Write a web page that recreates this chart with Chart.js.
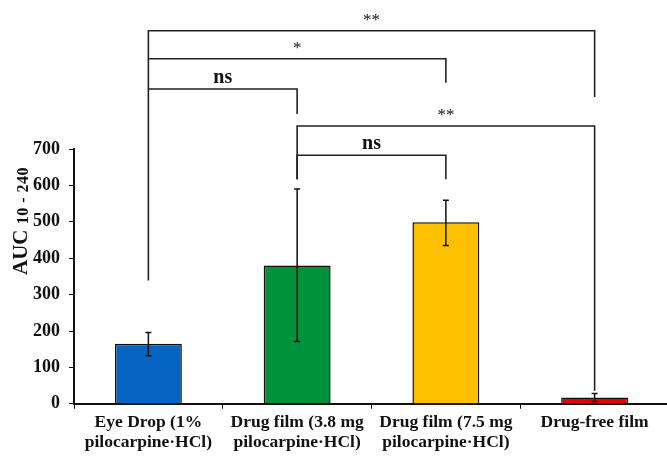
<!DOCTYPE html>
<html>
<head>
<meta charset="utf-8">
<script src="https://cdn.jsdelivr.net/npm/chart.js@4"></script>
<style>
  html, body { margin: 0; padding: 0; background: #fff; overflow: hidden; }
  #wrap { width: 669px; height: 456px; }
</style>
</head>
<body>
<div id="wrap"><canvas id="aucChart"></canvas></div>
<script>
// Data
const categories = [
    ['Eye Drop (1%', 'pilocarpine·HCl)'],
    ['Drug film (3.8 mg', 'pilocarpine·HCl)'],
    ['Drug film (7.5 mg', 'pilocarpine·HCl)'],
    'Drug-free film'
];
const aucMeans = [165, 380, 499, 17];
const errLow = [132, 171, 435, 6];
const errHigh = [196, 590, 559, 28];
const barColors = ['#0563c1', '#00923a', '#ffc000', '#e60000'];

// Significance brackets (values in AUC units, indexes into categories)
const bracketFrom = [0, 0, 0, 1, 1];
const bracketTo = [3, 2, 1, 3, 2];
const bracketLevel = [1025, 948, 865, 763, 683];
const bracketLeftEnd = [339, 948, 865, 617, 617];
const bracketRightEnd = [843, 882, 796, 36, 617];
const bracketLabels = ['**', '*', 'ns', '**', 'ns'];

const serif = '"Liberation Serif", "Times New Roman", serif';

const extras = {
    id: 'extras',
    afterDatasetsDraw(chart) {
        const ctx = chart.ctx;
        const x = chart.scales.x, y = chart.scales.y;
        ctx.save();
        // error bars
        ctx.strokeStyle = '#111';
        ctx.lineWidth = 1.5;
        aucMeans.forEach((v, i) => {
            const cx = x.getPixelForValue(i);
            const lo = y.getPixelForValue(errLow[i]);
            const hi = y.getPixelForValue(errHigh[i]);
            ctx.beginPath();
            ctx.moveTo(cx, lo); ctx.lineTo(cx, hi);
            ctx.moveTo(cx - 3, lo); ctx.lineTo(cx + 3, lo);
            ctx.moveTo(cx - 3, hi); ctx.lineTo(cx + 3, hi);
            ctx.stroke();
        });
        // brackets
        ctx.strokeStyle = '#222';
        ctx.lineWidth = 1.6;
        bracketLevel.forEach((lvl, i) => {
            const x1 = x.getPixelForValue(bracketFrom[i]);
            const x2 = x.getPixelForValue(bracketTo[i]);
            const yl = y.getPixelForValue(lvl);
            ctx.beginPath();
            ctx.moveTo(x1, y.getPixelForValue(bracketLeftEnd[i]));
            ctx.lineTo(x1, yl);
            ctx.lineTo(x2, yl);
            ctx.lineTo(x2, y.getPixelForValue(bracketRightEnd[i]));
            ctx.stroke();
            const lab = bracketLabels[i];
            ctx.fillStyle = '#111';
            ctx.textAlign = 'center';
            ctx.textBaseline = 'alphabetic';
            ctx.font = lab === 'ns' ? 'bold 20px ' + serif : '17px ' + serif;
            ctx.fillText(lab, (x1 + x2) / 2, yl - 6);
        });
        // y axis title with subscript
        ctx.translate(27, 221);
        ctx.rotate(-Math.PI / 2);
        ctx.textAlign = 'left';
        ctx.textBaseline = 'alphabetic';
        ctx.font = 'bold 21px ' + serif;
        const w1 = ctx.measureText('AUC ').width;
        ctx.font = 'bold 16px ' + serif;
        ctx.letterSpacing = '0.5px';
        const w2 = ctx.measureText('10 - 240').width;
        const start = -(w1 + w2) / 2;
        ctx.fillText('10 - 240', start + w1, 1);
        ctx.letterSpacing = '0px';
        ctx.font = 'bold 21px ' + serif;
        ctx.fillText('AUC ', start, 0);
        ctx.restore();
    }
};

new Chart(document.getElementById('aucChart'), {
    type: 'bar',
    data: {
        labels: categories,
        datasets: [{
            data: aucMeans,
            backgroundColor: barColors,
            borderColor: '#111',
            borderWidth: 1.5,
            barPercentage: 0.9,
            categoryPercentage: 0.5
        }]
    },
    options: {
        responsive: true,
        maintainAspectRatio: false,
        animation: false,
        layout: { padding: { top: 149, left: 24, right: 0, bottom: 0 } },
        plugins: { legend: { display: false }, tooltip: { enabled: false } },
        scales: {
            x: {
                grid: { display: true, drawOnChartArea: false, color: '#111', tickLength: 5, offset: true },
                border: { color: '#111', width: 2 },
                ticks: {
                    color: '#111',
                    maxRotation: 0,
                    autoSkip: false,
                    padding: 4,
                    font: { family: serif, size: 17.5, weight: 'bold', lineHeight: 1.12 }
                }
            },
            y: {
                min: 0,
                max: 700,
                grid: { display: true, drawOnChartArea: false, color: '#111', tickLength: 5 },
                border: { color: '#111', width: 2 },
                ticks: {
                    stepSize: 100,
                    color: '#111',
                    padding: 9,
                    font: { family: serif, size: 18, weight: 'bold' }
                }
            }
        }
    },
    plugins: [extras]
});
</script>
</body>
</html>
